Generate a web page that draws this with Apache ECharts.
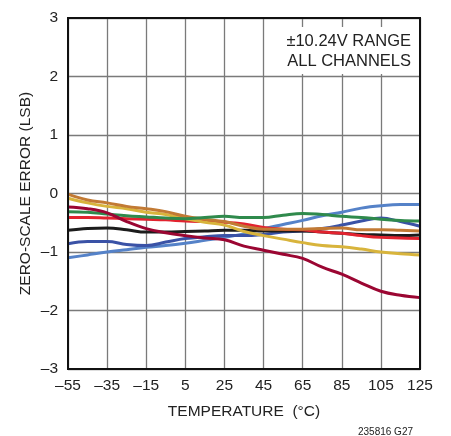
<!DOCTYPE html>
<html><head><meta charset="utf-8">
<script src="https://cdn.jsdelivr.net/npm/echarts@6/dist/echarts.min.js"></script>
<style>html,body{margin:0;padding:0;background:#fff}#c{width:451px;height:436px}</style>
</head><body><div id="c"></div>
<script>
const temps = [-55,-45,-35,-25,-15,-5,5,15,25,35,45,55,65,75,85,95,105,115,125];
const yTicks = [-3,-2,-1,0,1,2,3];
const lightBlue = [-1.10,-1.05,-1.00,-0.96,-0.92,-0.89,-0.85,-0.80,-0.75,-0.69,-0.60,-0.53,-0.46,-0.38,-0.32,-0.25,-0.21,-0.19,-0.19];
const darkBlue  = [-0.86,-0.82,-0.82,-0.87,-0.89,-0.83,-0.77,-0.74,-0.72,-0.72,-0.70,-0.66,-0.64,-0.60,-0.54,-0.47,-0.42,-0.48,-0.56];
const black     = [-0.63,-0.60,-0.59,-0.62,-0.66,-0.66,-0.65,-0.64,-0.63,-0.63,-0.64,-0.64,-0.64,-0.66,-0.68,-0.70,-0.71,-0.72,-0.71];
const red       = [-0.41,-0.41,-0.42,-0.43,-0.44,-0.45,-0.47,-0.48,-0.49,-0.52,-0.58,-0.61,-0.62,-0.66,-0.68,-0.72,-0.75,-0.76,-0.77];
const green     = [-0.31,-0.32,-0.35,-0.38,-0.40,-0.42,-0.43,-0.41,-0.39,-0.41,-0.41,-0.37,-0.34,-0.36,-0.39,-0.41,-0.44,-0.46,-0.47];
const maroon    = [-0.23,-0.26,-0.33,-0.48,-0.60,-0.67,-0.72,-0.76,-0.79,-0.90,-0.97,-1.04,-1.11,-1.26,-1.38,-1.53,-1.67,-1.74,-1.78];
const yellow    = [-0.08,-0.16,-0.22,-0.26,-0.32,-0.36,-0.43,-0.49,-0.54,-0.65,-0.72,-0.78,-0.84,-0.89,-0.91,-0.95,-1.00,-1.03,-1.05];
const brown     = [-0.01,-0.11,-0.16,-0.22,-0.26,-0.31,-0.39,-0.44,-0.48,-0.56,-0.61,-0.61,-0.61,-0.60,-0.59,-0.62,-0.62,-0.63,-0.64];

const FONT = '"Liberation Sans", Arial, sans-serif';
const FS = 15.5;
const dash = v => String(v).replace('-', '\u2013');
const mk = (name, data, color) => ({
  name, type: 'line', data, smooth: 0.4, symbol: 'none',
  lineStyle: { color, width: 3 }, emphasis: { disabled: true }
});

const chart = echarts.init(document.getElementById('c'));
chart.setOption({
  animation: false,
  grid: { left: 68, right: 31, top: 18, bottom: 67 },
  xAxis: {
    type: 'category', data: temps, boundaryGap: false,
    axisLine: { show: false },
    axisTick: { show: false },
    axisLabel: { interval: 1, margin: 9, color: '#222', fontFamily: FONT, fontSize: FS, formatter: dash },
    splitLine: { show: true, interval: 1, lineStyle: { color: '#7a7a7a', width: 1.3 } },
    name: 'TEMPERATURE  (\u00b0C)', nameLocation: 'middle', nameGap: 35, nameMoveOverlap: false,
    nameTextStyle: { color: '#222', fontFamily: FONT, fontSize: FS }
  },
  yAxis: {
    type: 'value', min: yTicks[0], max: yTicks[yTicks.length - 1], interval: 1,
    axisLine: { show: false }, axisTick: { show: false },
    axisLabel: { margin: 10, color: '#222', fontFamily: FONT, fontSize: FS, formatter: dash },
    splitLine: { show: true, lineStyle: { color: '#7a7a7a', width: 1.3 } },
    name: 'ZERO-SCALE ERROR (LSB)', nameLocation: 'middle', nameGap: 34, nameMoveOverlap: false,
    nameTextStyle: { color: '#222', fontFamily: FONT, fontSize: FS }
  },
  series: [
    mk('light blue', lightBlue, '#5582c8'),
    mk('dark blue', darkBlue, '#3a52a6'),
    mk('black', black, '#1c1c1c'),
    mk('red', red, '#e2232f'),
    mk('yellow', yellow, '#d8b43c'),
    mk('brown', brown, '#c27a34'),
    mk('green', green, '#2f8a4c'),
    mk('maroon', maroon, '#9b0632')
  ],
  graphic: [
    { type: 'rect', shape: { x: 276, y: 27, width: 142, height: 47 }, style: { fill: '#fff' }, z: 50 },
    { type: 'text', x: 411, y: 41, z: 51, style: { text: '\u00b110.24V RANGE', fill: '#222', font: '16.5px ' + FONT, textAlign: 'right', textVerticalAlign: 'middle' } },
    { type: 'text', x: 411, y: 61, z: 51, style: { text: 'ALL CHANNELS', fill: '#222', font: '16.5px ' + FONT, textAlign: 'right', textVerticalAlign: 'middle' } },
    { type: 'rect', shape: { x: 68, y: 18, width: 352, height: 351 }, style: { fill: 'none', stroke: '#111', lineWidth: 2 }, z: 60 },
    { type: 'text', x: 413, y: 432, z: 51, style: { text: '235816 G27', fill: '#222', font: '10px ' + FONT, textAlign: 'right', textVerticalAlign: 'middle' } }
  ]
});
</script></body></html>
